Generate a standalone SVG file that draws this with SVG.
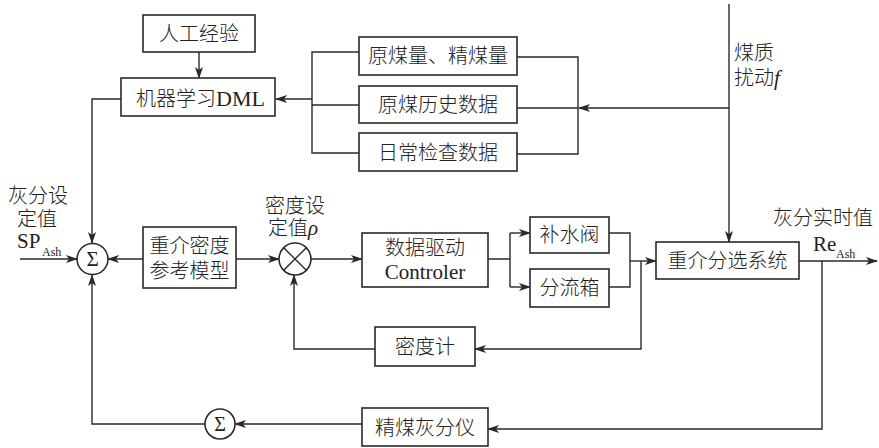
<svg xmlns="http://www.w3.org/2000/svg" width="879" height="448" viewBox="0 0 879 448">
<defs>
<marker id="arr" markerWidth="12" markerHeight="10" refX="11" refY="5" orient="auto" markerUnits="userSpaceOnUse">
<path d="M0,1 L12,5 L0,9 L3,5 z" fill="#2a2a2a"/>
</marker>
<style>
.box{fill:#fff;stroke:#2a2a2a;stroke-width:1.6}
.ln{fill:none;stroke:#2a2a2a;stroke-width:1.4}
.ar{fill:none;stroke:#2a2a2a;stroke-width:1.4;marker-end:url(#arr)}
.t{font-family:'Noto Sans CJK SC',sans-serif;font-weight:300;font-size:20px;fill:#222;text-anchor:middle}
.l{font-family:'Noto Sans CJK SC',sans-serif;font-weight:300;font-size:20px;fill:#222}
.rt{font-family:'Liberation Serif',serif;font-size:21px;fill:#222;text-anchor:middle}
.rl{font-family:'Liberation Serif',serif;font-size:21px;fill:#222}
.s{font-family:'Liberation Serif',serif;font-size:12px;fill:#222}
</style>
</defs>
<rect width="879" height="448" fill="#fff"/>

<g id="connectors">
<path class="ar" d="M199,52 V78"/>
<path class="ar" d="M121,99 H92 V243"/>
<path class="ln" d="M359,52 H312 V153 H359 M312,105 H359"/>
<path class="ar" d="M312,99 H276"/>
<path class="ln" d="M517,57 H578 V154 H517 M517,108 H578"/>
<path class="ar" d="M729,108 H579"/>
<path class="ar" d="M729,4 V242"/>
<path class="ar" d="M20,259 H77"/>
<path class="ar" d="M143,259 H108"/>
<path class="ar" d="M236,259 H279"/>
<path class="ar" d="M311,259 H362"/>
<path class="ln" d="M488,259 H510 M510,233 V287"/>
<path class="ar" d="M510,233 H530"/>
<path class="ar" d="M510,287 H530"/>
<path class="ln" d="M609,233 H630 V287 H609"/>
<path class="ar" d="M630,261 H656"/>
<path class="ar" d="M641,261 V349 H475"/>
<path class="ar" d="M375,349 H294 V275"/>
<path class="ar" d="M799,261 H877"/>
<path class="ar" d="M822,261 V429 H488"/>
<path class="ar" d="M362,424 H235"/>
<path class="ar" d="M205,424 H92 V275"/>
</g>

<g id="n_rengong"><rect class="box" x="143" y="15" width="112" height="37"/><text class="t" x="199" y="41">人工经验</text></g>
<g id="n_dml"><rect class="box" x="121" y="78" width="154" height="38"/><text class="l" x="136" y="106">机器学习<tspan style="font-family:'Liberation Serif',serif;font-weight:400;font-size:22px">DML</tspan></text></g>
<g id="n_yuanmei"><rect class="box" x="359" y="37" width="158" height="38"/><text class="t" x="438" y="63">原煤量、精煤量</text></g>
<g id="n_lishi"><rect class="box" x="359" y="86" width="158" height="37"/><text class="t" x="438" y="112">原煤历史数据</text></g>
<g id="n_richang"><rect class="box" x="359" y="133" width="158" height="38"/><text class="t" x="438" y="160">日常检查数据</text></g>

<g id="n_sum1"><circle class="box" cx="92.5" cy="259" r="15.5"/><text class="rt" x="92.5" y="266">Σ</text></g>
<g id="n_ref"><rect class="box" x="143" y="227" width="93" height="61"/><text class="t" x="189.5" y="253">重介密度</text><text class="t" x="189.5" y="278">参考模型</text></g>
<g id="n_mult"><circle class="box" cx="295" cy="259" r="16"/><path class="ln" d="M283.7,247.7 L306.3,270.3 M306.3,247.7 L283.7,270.3"/></g>
<g id="n_ctrl"><rect class="box" x="362" y="233" width="126" height="54"/><text class="t" x="425" y="255">数据驱动</text><text class="rt" x="425" y="279">Controler</text></g>
<g id="n_bushui"><rect class="box" x="530" y="217" width="79" height="36"/><text class="t" x="569.5" y="242">补水阀</text></g>
<g id="n_fenliu"><rect class="box" x="530" y="269" width="79" height="38"/><text class="t" x="569.5" y="295">分流箱</text></g>
<g id="n_system"><rect class="box" x="656" y="242" width="143" height="37"/><text class="t" x="727.5" y="268">重介分选系统</text></g>
<g id="n_midu"><rect class="box" x="375" y="327" width="100" height="39"/><text class="t" x="425" y="354">密度计</text></g>
<g id="n_jingmei"><rect class="box" x="362" y="408" width="126" height="38"/><text class="t" x="425" y="435">精煤灰分仪</text></g>
<g id="n_sum2"><circle class="box" cx="220" cy="424" r="15"/><text class="rt" x="220" y="431" style="font-size:20px">Σ</text></g>

<g id="labels">
<text class="l" x="8" y="203">灰分设</text>
<text class="l" x="17" y="226">定值</text>
<text class="rl" x="17" y="248">SP</text><text class="s" x="42" y="256">Ash</text>
<text class="l" x="265" y="213">密度设</text>
<text class="l" x="268" y="235">定值<tspan style="font-family:'Liberation Serif',serif;font-style:italic;font-weight:400;font-size:21px">ρ</tspan></text>
<text class="l" x="734" y="60">煤质</text>
<text class="l" x="734" y="85">扰动<tspan style="font-family:'Liberation Serif',serif;font-style:italic;font-weight:400;font-size:21px">f</tspan></text>
<text class="l" x="773" y="225">灰分实时值</text>
<text class="rl" x="813" y="251">Re</text><text class="s" x="836" y="258">Ash</text>
</g>
</svg>
